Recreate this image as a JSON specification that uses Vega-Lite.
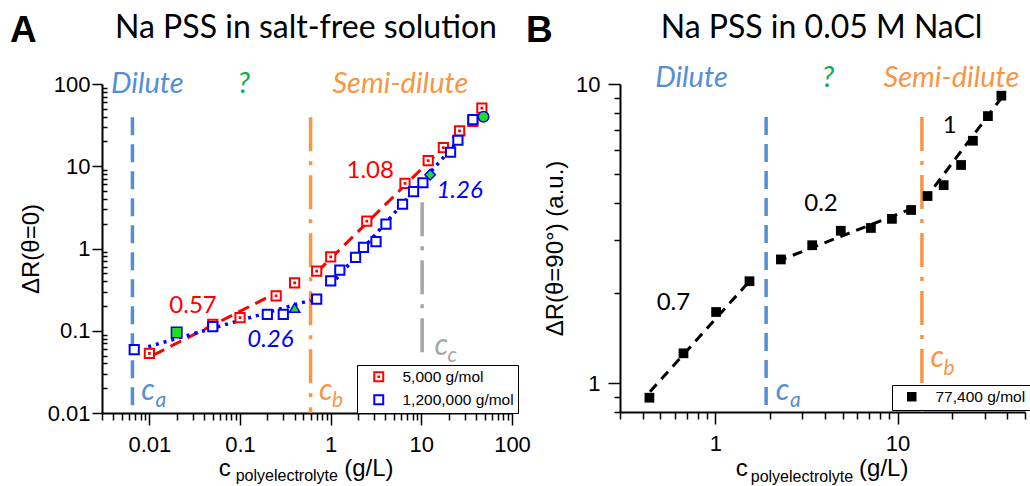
{
  "$schema": "https://vega.github.io/schema/vega-lite/v6.json",
  "autosize": {"type": "none"},
  "padding": {"left": 102, "top": 84, "right": 928, "bottom": 402},
  "background": "white",
  "config": {
    "view": {"stroke": null},
    "axis": {"labelFont": "Liberation Sans", "labelColor": "black", "domainColor": "black", "tickColor": "black", "titleColor": "black", "titleFont": "Liberation Sans", "titleFontWeight": "normal", "grid": false, "domainWidth": 2, "tickWidth": 1.5, "labelOverlap": false, "labelFlush": false},
    "legend": {"title": null, "strokeColor": "black", "fillColor": "white", "labelFont": "Liberation Sans", "labelFontSize": 15.5, "labelColor": "black", "padding": 4, "rowPadding": 5}
  },
  "datasets": {
    "aPts": [
      {"s": "5,000 g/mol", "x": 0.01, "y": 0.053},
      {"s": "5,000 g/mol", "x": 0.05, "y": 0.12},
      {"s": "5,000 g/mol", "x": 0.1, "y": 0.144},
      {"s": "5,000 g/mol", "x": 0.25, "y": 0.266},
      {"s": "5,000 g/mol", "x": 0.4, "y": 0.383},
      {"s": "5,000 g/mol", "x": 0.7, "y": 0.53},
      {"s": "5,000 g/mol", "x": 1.0, "y": 0.79},
      {"s": "5,000 g/mol", "x": 2.5, "y": 2.15},
      {"s": "5,000 g/mol", "x": 6.6, "y": 6.2},
      {"s": "5,000 g/mol", "x": 11.9, "y": 11.7},
      {"s": "5,000 g/mol", "x": 17.5, "y": 16.8},
      {"s": "5,000 g/mol", "x": 26.4, "y": 27},
      {"s": "5,000 g/mol", "x": 37, "y": 35},
      {"s": "5,000 g/mol", "x": 46.5, "y": 51},
      {"s": "1,200,000 g/mol", "x": 0.0068, "y": 0.059},
      {"s": "1,200,000 g/mol", "x": 0.05, "y": 0.112},
      {"s": "1,200,000 g/mol", "x": 0.2, "y": 0.158},
      {"s": "1,200,000 g/mol", "x": 0.3, "y": 0.158},
      {"s": "1,200,000 g/mol", "x": 0.7, "y": 0.243},
      {"s": "1,200,000 g/mol", "x": 1.0, "y": 0.405},
      {"s": "1,200,000 g/mol", "x": 1.26, "y": 0.547},
      {"s": "1,200,000 g/mol", "x": 1.88, "y": 0.78},
      {"s": "1,200,000 g/mol", "x": 2.3, "y": 1.03},
      {"s": "1,200,000 g/mol", "x": 3.16, "y": 1.21},
      {"s": "1,200,000 g/mol", "x": 4.07, "y": 1.98},
      {"s": "1,200,000 g/mol", "x": 6.2, "y": 3.45},
      {"s": "1,200,000 g/mol", "x": 8.2, "y": 4.9},
      {"s": "1,200,000 g/mol", "x": 10.4, "y": 6.3},
      {"s": "1,200,000 g/mol", "x": 21, "y": 14.8},
      {"s": "1,200,000 g/mol", "x": 25.3, "y": 20.7},
      {"s": "1,200,000 g/mol", "x": 37, "y": 37}
    ],
    "aSpec": [
      {"m": "square", "x": 0.02, "y": 0.095},
      {"m": "triangle-up", "x": 0.4, "y": 0.19},
      {"m": "diamond", "x": 12.5, "y": 7.9},
      {"m": "circle", "x": 48.5, "y": 40}
    ],
    "aFitR": [
      {"g": 1, "x": 0.0111, "y": 0.0507},
      {"g": 1, "x": 0.27, "y": 0.3},
      {"g": 2, "x": 0.71, "y": 0.52},
      {"g": 2, "x": 31, "y": 31.6}
    ],
    "aFitB": [
      {"g": 1, "x": 0.0097, "y": 0.064},
      {"g": 1, "x": 0.6, "y": 0.235},
      {"g": 2, "x": 1.0, "y": 0.36},
      {"g": 2, "x": 30, "y": 25}
    ],
    "aRule": [
      {"c": "dilute", "x": 0.0065, "y": 39.5, "y2": 0.01},
      {"c": "semi", "x": 0.6, "y": 39.5, "y2": 0.01},
      {"c": "gray", "x": 10.2, "y": 3.66, "y2": 0.048}
    ],
    "aTxt": [
      {"k": "title", "c": "black", "t": "Na PSS in salt-free solution", "x": 0.5337, "y": 360},
      {"k": "region", "c": "dilute", "t": "Dilute", "x": 0.0095, "y": 77.3},
      {"k": "region", "c": "unk", "t": "?", "x": 0.11, "y": 77.3},
      {"k": "region", "c": "semi", "t": "Semi-dilute", "x": 5.87, "y": 77.3},
      {"k": "slopeR", "c": "red", "t": "1.08", "x": 2.73, "y": 7.17},
      {"k": "slopeR", "c": "red", "t": "0.57", "x": 0.0303, "y": 0.164},
      {"k": "slopeB", "c": "blue", "t": "1.26", "x": 26.4, "y": 4.1},
      {"k": "slopeB", "c": "blue", "t": "0.26", "x": 0.216, "y": 0.0634},
      {"k": "cMain", "c": "dilute", "t": "c", "x": 0.00815, "y": 0.01439},
      {"k": "cMain", "c": "semi", "t": "c", "x": 0.743, "y": 0.01439},
      {"k": "cMain", "c": "gray", "t": "c", "x": 13.96, "y": 0.0507},
      {"k": "cSub", "c": "dilute", "t": "a", "x": 0.01165, "y": 0.01183},
      {"k": "cSub", "c": "semi", "t": "b", "x": 1.036, "y": 0.01183},
      {"k": "cSub", "c": "gray", "t": "c", "x": 19.45, "y": 0.0417},
      {"k": "axis", "c": "black", "t": "c", "x": 0.0581, "y": 0.001715},
      {"k": "axis", "c": "black", "t": "(g/L)", "x": 1.407, "y": 0.001715},
      {"k": "axisSub", "c": "black", "t": "polyelectrolyte", "x": 0.0895, "y": 0.00147},
      {"k": "panel", "c": "black", "t": "A", "x": 0.000289, "y": 322}
    ],
    "bPts": [
      {"s": "77,400 g/mol", "x": 0.435, "y": 0.893},
      {"s": "77,400 g/mol", "x": 0.669, "y": 1.257},
      {"s": "77,400 g/mol", "x": 1.01, "y": 1.728},
      {"s": "77,400 g/mol", "x": 1.54, "y": 2.19},
      {"s": "77,400 g/mol", "x": 2.29, "y": 2.59},
      {"s": "77,400 g/mol", "x": 3.4, "y": 2.89},
      {"s": "77,400 g/mol", "x": 4.88, "y": 3.23},
      {"s": "77,400 g/mol", "x": 7.14, "y": 3.3},
      {"s": "77,400 g/mol", "x": 9.31, "y": 3.54},
      {"s": "77,400 g/mol", "x": 11.86, "y": 3.79},
      {"s": "77,400 g/mol", "x": 14.6, "y": 4.22},
      {"s": "77,400 g/mol", "x": 17.9, "y": 4.59},
      {"s": "77,400 g/mol", "x": 22.3, "y": 5.36},
      {"s": "77,400 g/mol", "x": 25.9, "y": 6.46},
      {"s": "77,400 g/mol", "x": 31.3, "y": 7.81},
      {"s": "77,400 g/mol", "x": 37.1, "y": 9.14}
    ],
    "bFit": [
      {"g": 1, "x": 0.438, "y": 0.935},
      {"g": 1, "x": 1.56, "y": 2.21},
      {"g": 2, "x": 2.18, "y": 2.55},
      {"g": 2, "x": 12.1, "y": 3.84},
      {"g": 3, "x": 14.0, "y": 4.09},
      {"g": 3, "x": 37, "y": 8.96}
    ],
    "bRule": [
      {"c": "dilute", "x": 1.9, "y": 7.76, "y2": 0.8},
      {"c": "semi", "x": 13.6, "y": 7.76, "y2": 0.8}
    ],
    "bTxt": [
      {"k": "title", "c": "black", "t": "Na PSS in 0.05 M NaCl", "x": 3.825, "y": 14.25},
      {"k": "region", "c": "dilute", "t": "Dilute", "x": 0.74, "y": 9.77},
      {"k": "region", "c": "unk", "t": "?", "x": 4.15, "y": 9.77},
      {"k": "region", "c": "semi", "t": "Semi-dilute", "x": 19.75, "y": 9.77},
      {"k": "slope", "c": "black", "t": "0.7", "x": 0.589, "y": 1.754},
      {"k": "slope", "c": "black", "t": "0.2", "x": 3.8, "y": 3.77},
      {"k": "slope", "c": "black", "t": "1", "x": 19.3, "y": 6.86},
      {"k": "cMain", "c": "dilute", "t": "c", "x": 2.148, "y": 0.877},
      {"k": "cMain", "c": "semi", "t": "c", "x": 15.14, "y": 1.131},
      {"k": "cSub", "c": "dilute", "t": "a", "x": 2.565, "y": 0.831},
      {"k": "cSub", "c": "semi", "t": "b", "x": 17.85, "y": 1.064},
      {"k": "axis", "c": "black", "t": "c", "x": 1.294, "y": 0.489},
      {"k": "axis", "c": "black", "t": "(g/L)", "x": 6.15, "y": 0.489},
      {"k": "axisSub", "c": "black", "t": "polyelectrolyte", "x": 1.565, "y": 0.465},
      {"k": "panel", "c": "black", "t": "B", "x": 0.0914, "y": 13.8}
    ]
  },
  "hconcat": [
    {
      "width": 410,
      "height": 329,
      "encoding": {
        "x": {"field": "x", "type": "quantitative",
          "scale": {"type": "log", "domain": [0.003, 100], "nice": false},
          "axis": {"title": null,
            "values": [0.003,0.004,0.005,0.006,0.007,0.008,0.009,0.01,0.02,0.03,0.04,0.05,0.06,0.07,0.08,0.09,0.1,0.2,0.3,0.4,0.5,0.6,0.7,0.8,0.9,1,2,3,4,5,6,7,8,9,10,20,30,40,50,60,70,80,90,100],
            "labelExpr": "abs(log(datum.value)/LN10 - round(log(datum.value)/LN10)) < 0.001 ? format(datum.value, '~g') : ''",
            "tickSize": {"condition": {"test": "abs(log(datum.value)/LN10 - round(log(datum.value)/LN10)) < 0.001", "value": 12}, "value": 7},
            "labelFontSize": 22, "labelPadding": 9}},
        "y": {"field": "y", "type": "quantitative",
          "scale": {"type": "log", "domain": [0.01, 100], "nice": false},
          "axis": {"title": "ΔR(θ=0)", "titleFontSize": 24, "titlePadding": 4,
            "values": [0.01,0.02,0.03,0.04,0.05,0.06,0.07,0.08,0.09,0.1,0.2,0.3,0.4,0.5,0.6,0.7,0.8,0.9,1,2,3,4,5,6,7,8,9,10,20,30,40,50,60,70,80,90,100],
            "labelExpr": "abs(log(datum.value)/LN10 - round(log(datum.value)/LN10)) < 0.001 ? format(datum.value, '~g') : ''",
            "tickSize": {"condition": {"test": "abs(log(datum.value)/LN10 - round(log(datum.value)/LN10)) < 0.001", "value": 10}, "value": -5},
            "labelFontSize": 22, "labelPadding": 2}}
      },
      "layer": [
        {"data": {"name": "aRule"}, "mark": {"type": "rule", "strokeWidth": 3.5},
          "encoding": {"y2": {"field": "y2"},
            "color": {"field": "c", "type": "nominal", "scale": {"domain": ["dilute","unk","semi","red","blue","gray","black"], "range": ["#558ED5","#00B050","#F79646","#FF0000","#0000FF","#A6A6A6","#000000"]}, "legend": null},
            "strokeDash": {"field": "c", "type": "nominal", "scale": {"domain": ["dilute","semi","gray"], "range": [[18,9],[34,10,4,10],[34,10,4,10]]}, "legend": null}}},
        {"data": {"name": "aFitR"}, "mark": {"type": "line", "color": "#FF0000", "strokeWidth": 3, "strokeDash": [12, 7]},
          "encoding": {"detail": {"field": "g"}}},
        {"data": {"name": "aFitB"}, "mark": {"type": "line", "color": "#0000FF", "strokeWidth": 3.5, "strokeDash": [3, 5]},
          "encoding": {"detail": {"field": "g"}}},
        {"data": {"name": "aPts"}, "mark": {"type": "point", "filled": true, "fill": "white", "strokeWidth": 2, "size": 85, "opacity": 1},
          "encoding": {
            "stroke": {"field": "s", "type": "nominal", "sort": null, "scale": {"domain": ["5,000 g/mol", "1,200,000 g/mol"], "range": ["#FF0000", "#0000FF"]},
              "legend": {"orient": "none", "legendX": 255, "legendY": 281, "symbolSize": 80, "symbolStrokeWidth": 2, "symbolOffset": 10, "labelOffset": 16}},
            "shape": {"field": "s", "type": "nominal", "sort": null, "scale": {"domain": ["5,000 g/mol", "1,200,000 g/mol"], "range": ["M-1,-1H1V1H-1Z M-0.08,-0.08H0.08V0.08H-0.08Z", "square"]}}
          }},
        {"data": {"name": "aSpec"}, "mark": {"type": "point", "filled": true, "fill": "#22DD22", "stroke": "#0000FF", "strokeWidth": 1.5, "size": 110, "opacity": 1},
          "encoding": {"shape": {"field": "m", "type": "nominal", "scale": null}}},
        {"data": {"name": "aTxt"}, "transform": [{"filter": "datum.k == 'title'"}],
          "mark": {"type": "text", "font": "Lato", "fontSize": 32, "align": "center", "baseline": "alphabetic", "color": "black"},
          "encoding": {"text": {"field": "t"}}},
        {"data": {"name": "aTxt"}, "transform": [{"filter": "datum.k == 'region'"}],
          "mark": {"type": "text", "font": "Lato", "fontSize": 29, "fontStyle": "italic", "align": "center", "baseline": "alphabetic"},
          "encoding": {"text": {"field": "t"}, "color": {"field": "c", "type": "nominal", "scale": {"domain": ["dilute","unk","semi","red","blue","gray","black"], "range": ["#558ED5","#00B050","#F79646","#FF0000","#0000FF","#A6A6A6","#000000"]}, "legend": null}}},
        {"data": {"name": "aTxt"}, "transform": [{"filter": "datum.k == 'slopeR'"}],
          "mark": {"type": "text", "font": "Lato", "fontSize": 24, "align": "center", "baseline": "alphabetic"},
          "encoding": {"text": {"field": "t"}, "color": {"field": "c", "type": "nominal", "scale": {"domain": ["dilute","unk","semi","red","blue","gray","black"], "range": ["#558ED5","#00B050","#F79646","#FF0000","#0000FF","#A6A6A6","#000000"]}, "legend": null}}},
        {"data": {"name": "aTxt"}, "transform": [{"filter": "datum.k == 'slopeB'"}],
          "mark": {"type": "text", "font": "Lato", "fontSize": 24, "fontStyle": "italic", "align": "center", "baseline": "alphabetic"},
          "encoding": {"text": {"field": "t"}, "color": {"field": "c", "type": "nominal", "scale": {"domain": ["dilute","unk","semi","red","blue","gray","black"], "range": ["#558ED5","#00B050","#F79646","#FF0000","#0000FF","#A6A6A6","#000000"]}, "legend": null}}},
        {"data": {"name": "aTxt"}, "transform": [{"filter": "datum.k == 'cMain'"}],
          "mark": {"type": "text", "font": "Lato", "fontSize": 30, "fontStyle": "italic", "align": "left", "baseline": "alphabetic"},
          "encoding": {"text": {"field": "t"}, "color": {"field": "c", "type": "nominal", "scale": {"domain": ["dilute","unk","semi","red","blue","gray","black"], "range": ["#558ED5","#00B050","#F79646","#FF0000","#0000FF","#A6A6A6","#000000"]}, "legend": null}}},
        {"data": {"name": "aTxt"}, "transform": [{"filter": "datum.k == 'cSub'"}],
          "mark": {"type": "text", "font": "Lato", "fontSize": 21, "fontStyle": "italic", "align": "left", "baseline": "alphabetic"},
          "encoding": {"text": {"field": "t"}, "color": {"field": "c", "type": "nominal", "scale": {"domain": ["dilute","unk","semi","red","blue","gray","black"], "range": ["#558ED5","#00B050","#F79646","#FF0000","#0000FF","#A6A6A6","#000000"]}, "legend": null}}},
        {"data": {"name": "aTxt"}, "transform": [{"filter": "datum.k == 'axis'"}],
          "mark": {"type": "text", "font": "Liberation Sans", "fontSize": 24, "align": "left", "baseline": "alphabetic", "color": "black"},
          "encoding": {"text": {"field": "t"}}},
        {"data": {"name": "aTxt"}, "transform": [{"filter": "datum.k == 'axisSub'"}],
          "mark": {"type": "text", "font": "Liberation Sans", "fontSize": 16, "align": "left", "baseline": "alphabetic", "color": "black"},
          "encoding": {"text": {"field": "t"}}},
        {"data": {"name": "aTxt"}, "transform": [{"filter": "datum.k == 'panel'"}],
          "mark": {"type": "text", "font": "Liberation Sans", "fontSize": 37, "fontWeight": "bold", "align": "left", "baseline": "alphabetic", "color": "black"},
          "encoding": {"text": {"field": "t"}}}
      ]
    },
    {
      "width": 405,
      "height": 328,
      "encoding": {
        "x": {"field": "x", "type": "quantitative",
          "scale": {"type": "log", "domain": [0.3, 50], "nice": false},
          "axis": {"title": null,
            "values": [0.3,0.4,0.5,0.6,0.7,0.8,0.9,1,2,3,4,5,6,7,8,9,10,20,30,40,50],
            "labelExpr": "abs(log(datum.value)/LN10 - round(log(datum.value)/LN10)) < 0.001 ? format(datum.value, '~g') : ''",
            "tickSize": {"condition": {"test": "abs(log(datum.value)/LN10 - round(log(datum.value)/LN10)) < 0.001", "value": 12}, "value": 7},
            "labelFontSize": 22, "labelPadding": 9}},
        "y": {"field": "y", "type": "quantitative",
          "scale": {"type": "log", "domain": [0.8, 10], "nice": false},
          "axis": {"title": "ΔR(θ=90°) (a.u.)", "titleFontSize": 24, "titlePadding": 8,
            "values": [0.8,0.9,1,2,3,4,5,6,7,8,9,10],
            "labelExpr": "abs(log(datum.value)/LN10 - round(log(datum.value)/LN10)) < 0.001 ? format(datum.value, '~g') : ''",
            "tickSize": {"condition": {"test": "abs(log(datum.value)/LN10 - round(log(datum.value)/LN10)) < 0.001", "value": 12}, "value": 6},
            "labelFontSize": 22, "labelPadding": 8}}
      },
      "layer": [
        {"data": {"name": "bRule"}, "mark": {"type": "rule", "strokeWidth": 3.5},
          "encoding": {"y2": {"field": "y2"},
            "color": {"field": "c", "type": "nominal", "scale": {"domain": ["dilute","unk","semi","black"], "range": ["#558ED5","#00B050","#F79646","#000000"]}, "legend": null},
            "strokeDash": {"field": "c", "type": "nominal", "scale": {"domain": ["dilute","semi"], "range": [[18,9],[34,10,4,10]]}, "legend": null}}},
        {"data": {"name": "bFit"}, "mark": {"type": "line", "color": "#000000", "strokeWidth": 3, "strokeDash": [10, 7]},
          "encoding": {"detail": {"field": "g"}}},
        {"data": {"name": "bPts"}, "mark": {"type": "point", "filled": true, "shape": "square", "size": 95, "opacity": 1},
          "encoding": {
            "fill": {"field": "s", "type": "nominal", "scale": {"domain": ["77,400 g/mol"], "range": ["#000000"]},
              "legend": {"orient": "none", "legendX": 790, "legendY": 301, "symbolSize": 90, "symbolType": "square", "symbolOffset": 8, "labelOffset": 16}}
          }},
        {"data": {"name": "bTxt"}, "transform": [{"filter": "datum.k == 'title'"}],
          "mark": {"type": "text", "font": "Lato", "fontSize": 32, "align": "center", "baseline": "alphabetic", "color": "black"},
          "encoding": {"text": {"field": "t"}}},
        {"data": {"name": "bTxt"}, "transform": [{"filter": "datum.k == 'region'"}],
          "mark": {"type": "text", "font": "Lato", "fontSize": 29, "fontStyle": "italic", "align": "center", "baseline": "alphabetic"},
          "encoding": {"text": {"field": "t"}, "color": {"field": "c", "type": "nominal", "scale": {"domain": ["dilute","unk","semi","black"], "range": ["#558ED5","#00B050","#F79646","#000000"]}, "legend": null}}},
        {"data": {"name": "bTxt"}, "transform": [{"filter": "datum.k == 'slope'"}],
          "mark": {"type": "text", "font": "Lato", "fontSize": 24, "align": "center", "baseline": "alphabetic", "color": "black"},
          "encoding": {"text": {"field": "t"}}},
        {"data": {"name": "bTxt"}, "transform": [{"filter": "datum.k == 'cMain'"}],
          "mark": {"type": "text", "font": "Lato", "fontSize": 30, "fontStyle": "italic", "align": "left", "baseline": "alphabetic"},
          "encoding": {"text": {"field": "t"}, "color": {"field": "c", "type": "nominal", "scale": {"domain": ["dilute","unk","semi","black"], "range": ["#558ED5","#00B050","#F79646","#000000"]}, "legend": null}}},
        {"data": {"name": "bTxt"}, "transform": [{"filter": "datum.k == 'cSub'"}],
          "mark": {"type": "text", "font": "Lato", "fontSize": 21, "fontStyle": "italic", "align": "left", "baseline": "alphabetic"},
          "encoding": {"text": {"field": "t"}, "color": {"field": "c", "type": "nominal", "scale": {"domain": ["dilute","unk","semi","black"], "range": ["#558ED5","#00B050","#F79646","#000000"]}, "legend": null}}},
        {"data": {"name": "bTxt"}, "transform": [{"filter": "datum.k == 'axis'"}],
          "mark": {"type": "text", "font": "Liberation Sans", "fontSize": 24, "align": "left", "baseline": "alphabetic", "color": "black"},
          "encoding": {"text": {"field": "t"}}},
        {"data": {"name": "bTxt"}, "transform": [{"filter": "datum.k == 'axisSub'"}],
          "mark": {"type": "text", "font": "Liberation Sans", "fontSize": 16, "align": "left", "baseline": "alphabetic", "color": "black"},
          "encoding": {"text": {"field": "t"}}},
        {"data": {"name": "bTxt"}, "transform": [{"filter": "datum.k == 'panel'"}],
          "mark": {"type": "text", "font": "Liberation Sans", "fontSize": 37, "fontWeight": "bold", "align": "left", "baseline": "alphabetic", "color": "black"},
          "encoding": {"text": {"field": "t"}}}
      ]
    }
  ],
  "spacing": 108,
  "bounds": "flush"
}
